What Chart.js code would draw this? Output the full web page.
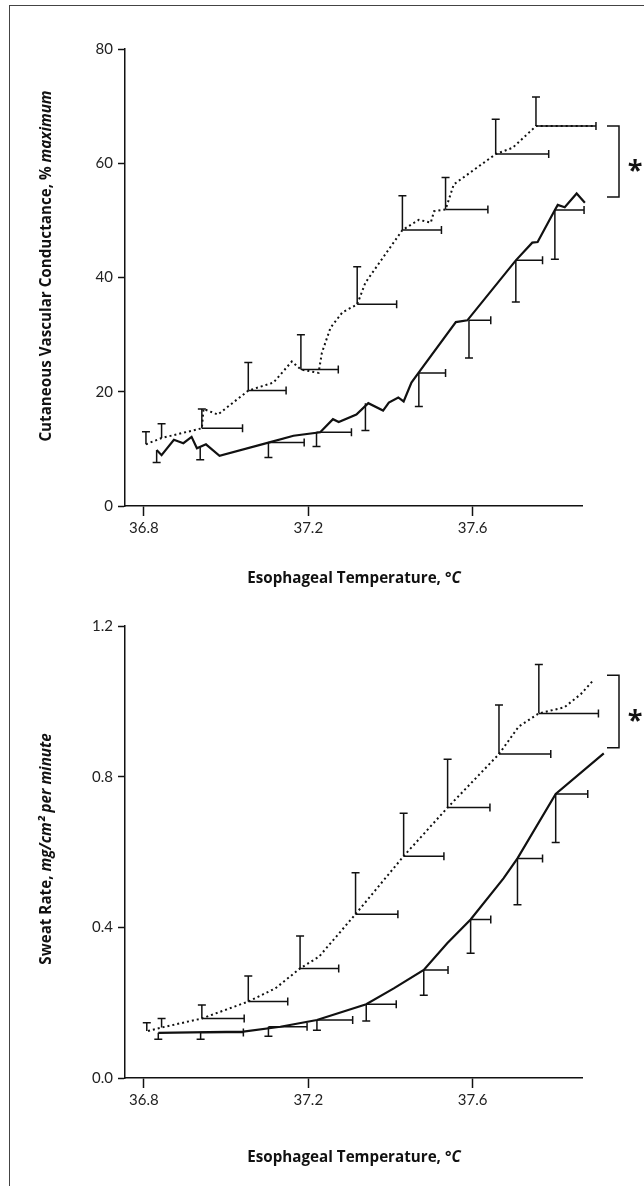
<!DOCTYPE html>
<html>
<head>
<meta charset="utf-8">
<script src="https://cdn.jsdelivr.net/npm/chart.js@4.4.0/dist/chart.umd.min.js"></script>
<style>
  html, body { margin: 0; padding: 0; background: #fff; overflow: hidden; }
  body { width: 644px; height: 1186px; position: relative; font-family: "Open Sans", Lato, sans-serif; color: #111; }
  #frame { position: absolute; left: 9px; top: 5px; width: 700px; height: 1300px; border-left: 1.5px solid #444; border-top: 1.5px solid #444; }
  .wrap { position: absolute; left: 0; width: 644px; }
  .ytitle { position: absolute; transform: translate(-50%, -50%) rotate(-90deg); white-space: nowrap; font-weight: bold; font-size: 15.2px; }
  .xtitle { position: absolute; transform: translate(-50%, -50%); white-space: nowrap; font-weight: bold; font-size: 15.2px; }
  .star { position: absolute; transform: translate(-50%, -50%); font-weight: bold; font-size: 27px; }
</style>
</head>
<body>
<div id="frame"></div>

<div class="wrap" style="top:0;height:600px"><canvas id="chartCvc" width="644" height="600"></canvas></div>
<div class="wrap" style="top:600px;height:586px"><canvas id="chartSweat" width="644" height="586"></canvas></div>

<div class="ytitle" style="left:45px;top:266px">Cutaneous Vascular Conductance, % <i>maximum</i></div>
<div class="xtitle" style="left:354px;top:577px">Esophageal Temperature, &deg;<i>C</i></div>
<div class="star" style="left:635px;top:168px">*</div>

<div class="ytitle" style="left:45px;top:849px">Sweat Rate, <i>mg/cm² per minute</i></div>
<div class="xtitle" style="left:354px;top:1156px">Esophageal Temperature, &deg;<i>C</i></div>
<div class="star" style="left:635px;top:718px">*</div>

<script>
// ---- shared axis ----
const xTicks = [36.8, 37.2, 37.6];

// ---- top panel: cutaneous vascular conductance (% max) ----
const cvcTicks = [0, 20, 40, 60, 80];

const cvcDotT = [36.805, 36.843, 36.941, 36.945, 36.98, 37.054, 37.115, 37.16, 37.182, 37.225, 37.233, 37.254, 37.283, 37.319,
  37.339, 37.376, 37.429, 37.469, 37.498, 37.506, 37.534, 37.554, 37.656, 37.697, 37.754, 37.9];
const cvcDotV = [10.8, 11.9, 13.6, 17.0, 16.0, 20.2, 21.6, 25.3, 23.9, 23.3, 26.8, 31.2, 33.9, 35.3,
  39.1, 42.9, 48.3, 50.1, 49.6, 51.6, 51.9, 56.3, 61.6, 62.7, 66.5, 66.5];

const cvcSolT = [36.831, 36.843, 36.873, 36.896, 36.916, 36.929, 36.951, 36.984, 37.103, 37.164, 37.229, 37.26, 37.274, 37.317,
  37.346, 37.382, 37.396, 37.419, 37.432, 37.451, 37.469, 37.559, 37.587, 37.705, 37.745, 37.758, 37.8, 37.807, 37.824,
  37.853, 37.873, 37.911];
const cvcSolV = [9.8, 8.9, 11.6, 11.0, 12.1, 10.1, 10.8, 8.8, 11.1, 12.3, 12.9, 15.2, 14.7, 16.0,
  18.0, 16.7, 18.1, 19.0, 18.3, 21.6, 23.4, 32.2, 32.5, 43.0, 46.1, 46.2, 51.8, 52.7, 52.3,
  54.7, 53.1, 54.1];

// error bars: point, upper (dotted) / lower (solid) end, right end of temperature bar
const cvcDotErrT = [36.805, 36.843, 36.941, 37.054, 37.182, 37.319, 37.429, 37.534, 37.656, 37.754];
const cvcDotErrV = [10.8, 11.9, 13.6, 20.2, 23.9, 35.3, 48.3, 51.9, 61.6, 66.5];
const cvcDotErrHi = [13.0, 14.4, 17.0, 25.1, 30.0, 41.9, 54.3, 57.5, 67.7, 71.6];
const cvcDotErrRight = [null, null, 37.04, 37.146, 37.273, 37.415, 37.524, 37.637, 37.785, 37.9];

const cvcSolErrT = [36.831, 36.937, 37.103, 37.22, 37.339, 37.469, 37.591, 37.705, 37.8];
const cvcSolErrV = [9.8, 10.3, 11.1, 12.9, 18.0, 23.3, 32.5, 43.0, 51.8];
const cvcSolErrLo = [7.6, 8.1, 8.5, 10.4, 13.2, 17.4, 25.9, 35.7, 43.2];
const cvcSolErrRight = [null, null, 37.19, 37.305, null, 37.534, 37.644, 37.77, 37.871];

// ---- bottom panel: sweat rate ----
const sweatTicks = [0, 0.4, 0.8, 1.2];

const sweatDotT = [36.81, 36.843, 36.941, 37.054, 37.12, 37.18, 37.226, 37.315, 37.432, 37.539, 37.664, 37.712, 37.761,
  37.823, 37.863, 37.892];
const sweatDotV = [0.125, 0.134, 0.158, 0.203, 0.238, 0.291, 0.322, 0.435, 0.589, 0.718, 0.860, 0.933, 0.968,
  0.984, 1.019, 1.054];

const sweatSolT = [36.835, 37.042, 37.132, 37.221, 37.341, 37.408, 37.481, 37.538, 37.595, 37.675, 37.709, 37.802, 37.919];
const sweatSolV = [0.120, 0.123, 0.136, 0.154, 0.196, 0.238, 0.287, 0.358, 0.421, 0.530, 0.583, 0.754, 0.862];

const sweatDotErrT = [36.807, 36.843, 36.941, 37.054, 37.18, 37.315, 37.432, 37.539, 37.664, 37.761];
const sweatDotErrV = [0.125, 0.134, 0.158, 0.203, 0.291, 0.435, 0.589, 0.718, 0.860, 0.968];
const sweatDotErrHi = [0.147, 0.158, 0.194, 0.271, 0.377, 0.545, 0.703, 0.846, 0.990, 1.098];
const sweatDotErrRight = [null, null, 37.044, 37.15, 37.274, 37.418, 37.53, 37.642, 37.79, 37.906];

const sweatSolErrT = [36.835, 36.938, 37.103, 37.221, 37.341, 37.481, 37.595, 37.709, 37.802];
const sweatSolErrV = [0.120, 0.121, 0.136, 0.154, 0.196, 0.287, 0.421, 0.583, 0.754];
const sweatSolErrLo = [0.103, 0.103, 0.111, 0.127, 0.151, 0.220, 0.331, 0.46, 0.625];
const sweatSolErrRight = [null, 37.042, 37.197, 37.308, 37.414, 37.54, 37.644, 37.77, 37.88];


const ink = "#111";
const tickFont = { family: "Lato, 'Open Sans', sans-serif", size: 15 };

const toPts = (xs, ys) => xs.map((x, i) => ({ x, y: ys[i] }));

// error bars + significance bracket
const errorBars = {
  id: "errorBars",
  afterDatasetsDraw(chart, args, opts) {
    const ctx = chart.ctx;
    const xs = chart.scales.x, ys = chart.scales.y;
    ctx.save();
    ctx.strokeStyle = ink;
    ctx.lineWidth = 1.5;
    ctx.setLineDash([]);
    opts.sets.forEach(set => {
      set.t.forEach((t, i) => {
        const x = xs.getPixelForValue(t);
        const y = ys.getPixelForValue(set.v[i]);
        const yEnd = ys.getPixelForValue(set.end[i]);
        ctx.beginPath();
        ctx.moveTo(x, y);
        ctx.lineTo(x, yEnd);
        ctx.moveTo(x - 4, yEnd);
        ctx.lineTo(x + 4, yEnd);
        if (set.right[i] != null) {
          const xEnd = xs.getPixelForValue(set.right[i]);
          ctx.moveTo(x, y);
          ctx.lineTo(xEnd, y);
          ctx.moveTo(xEnd, y - 4);
          ctx.lineTo(xEnd, y + 4);
        }
        ctx.stroke();
      });
    });
    // bracket between the two curve ends
    const bx = chart.chartArea.right + 25;
    const yTop = ys.getPixelForValue(opts.bracket[0]);
    const yBot = ys.getPixelForValue(opts.bracket[1]);
    ctx.beginPath();
    ctx.moveTo(bx, yTop);
    ctx.lineTo(bx + 12, yTop);
    ctx.lineTo(bx + 12, yBot);
    ctx.lineTo(bx, yBot);
    ctx.stroke();
    ctx.restore();
  }
};

function makePanel(id, cfg) {
  return new Chart(document.getElementById(id), {
    type: "scatter",
    data: {
      datasets: [
        { data: cfg.dotted, showLine: true, borderColor: ink, borderWidth: 2, borderDash: [2, 3],
          pointRadius: 0, tension: 0, clip: false },
        { data: cfg.solid, showLine: true, borderColor: ink, borderWidth: 2.2,
          pointRadius: 0, tension: 0, clip: false }
      ]
    },
    options: {
      responsive: false,
      animation: false,
      layout: { padding: { left: 0, right: 62, top: cfg.padTop, bottom: 0 } },
      plugins: {
        legend: { display: false },
        tooltip: { enabled: false },
        errorBars: { sets: cfg.errors, bracket: cfg.bracket }
      },
      scales: {
        x: {
          type: "linear",
          min: 36.754,
          max: 37.866,
          afterBuildTicks: s => { s.ticks = xTicks.map(v => ({ value: v })); },
          afterFit: s => { s.height = cfg.xAxisH; },
          grid: { drawOnChartArea: false, tickLength: 10, tickWidth: 1.5, tickColor: ink },
          border: { color: ink, width: 1.5 },
          ticks: { padding: 3, color: "#222", font: tickFont, callback: v => v.toFixed(1) }
        },
        y: {
          min: cfg.yMin,
          max: cfg.yMax,
          afterBuildTicks: s => { s.ticks = cfg.yTicks.map(v => ({ value: v })); },
          afterFit: s => { s.width = 125; },
          grid: { drawOnChartArea: false, tickLength: 7, tickWidth: 1.5, tickColor: ink },
          border: { color: ink, width: 1.5 },
          ticks: { padding: 5, color: "#222", font: tickFont, callback: cfg.yFmt }
        }
      }
    },
    plugins: [errorBars]
  });
}

makePanel("chartCvc", {
  dotted: toPts(cvcDotT, cvcDotV),
  solid: toPts(cvcSolT, cvcSolV),
  errors: [
    { t: cvcDotErrT, v: cvcDotErrV, end: cvcDotErrHi, right: cvcDotErrRight },
    { t: cvcSolErrT, v: cvcSolErrV, end: cvcSolErrLo, right: cvcSolErrRight }
  ],
  bracket: [cvcDotV[cvcDotV.length - 1], cvcSolV[cvcSolV.length - 1]],
  yMin: 0, yMax: 80, yTicks: cvcTicks, yFmt: v => String(v),
  padTop: 49, xAxisH: 94
});

makePanel("chartSweat", {
  dotted: toPts(sweatDotT, sweatDotV),
  solid: toPts(sweatSolT, sweatSolV),
  errors: [
    { t: sweatDotErrT, v: sweatDotErrV, end: sweatDotErrHi, right: sweatDotErrRight },
    { t: sweatSolErrT, v: sweatSolErrV, end: sweatSolErrLo, right: sweatSolErrRight }
  ],
  bracket: [sweatDotV[sweatDotV.length - 1] + 0.015, sweatSolV[sweatSolV.length - 1] + 0.015],
  yMin: 0, yMax: 1.2, yTicks: sweatTicks, yFmt: v => v.toFixed(1),
  padTop: 26, xAxisH: 108
});
</script>
</body>
</html>
